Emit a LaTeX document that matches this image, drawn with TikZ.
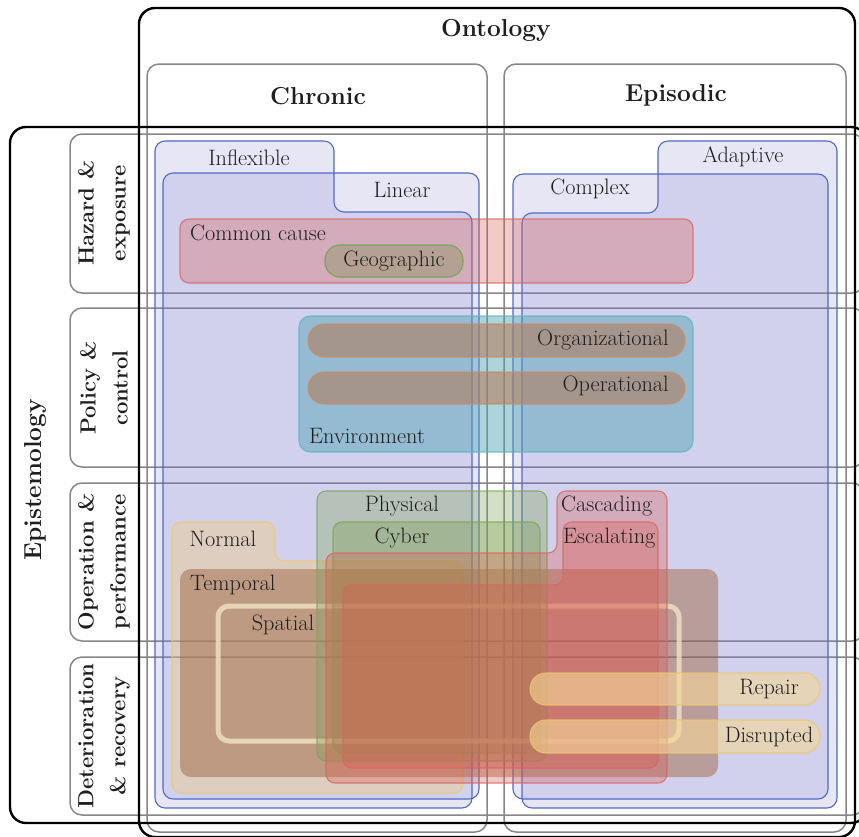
\documentclass[tikz,border=0pt]{standalone}
\usepackage{fontspec}

\definecolor{gridgray}{RGB}{135,135,135}
\definecolor{blueline}{RGB}{80,105,200}
\definecolor{bluefill}{RGB}{115,115,200}
\definecolor{redline}{RGB}{215,100,100}
\definecolor{redfill}{RGB}{220,90,80}
\definecolor{greenline}{RGB}{120,165,90}
\definecolor{greenfill}{RGB}{125,160,80}
\definecolor{tealline}{RGB}{90,180,195}
\definecolor{tealfill}{RGB}{75,160,175}
\definecolor{orangeline}{RGB}{205,140,100}
\definecolor{brownfill}{RGB}{180,120,85}
\definecolor{olivefill}{RGB}{150,150,110}
\definecolor{yellowline}{RGB}{235,200,110}
\definecolor{yellowfill}{RGB}{240,200,125}
\definecolor{pillfill}{RGB}{245,215,150}
\definecolor{tempfill}{RGB}{155,95,60}
\definecolor{creamline}{RGB}{245,232,200}
\definecolor{textgray}{RGB}{30,30,30}

\newcommand\headfont{\fontsize{24.5}{27}\selectfont\bfseries}
\newcommand\rowfont{\fontsize{22}{32}\selectfont\bfseries}
\newcommand\tagfont{\fontsize{22.3}{24}\selectfont}

\begin{document}
\begin{tikzpicture}[x=1pt,y=-1pt,
  frameblack/.style={draw=black,line width=2.4pt,rounded corners=16pt},
  framegray/.style={draw=gridgray,line width=1.5pt,rounded corners=12pt},
  blueset/.style={draw=blueline,line width=1.1pt,fill=bluefill,fill opacity=0.18,rounded corners=10pt},
  redset/.style={draw=redline,draw opacity=0.8,line width=1.1pt,fill=redfill,fill opacity=0.32,rounded corners=9pt},
  greenset/.style={draw=greenline,draw opacity=0.8,line width=1.1pt,fill=greenfill,fill opacity=0.33,rounded corners=9pt},
  tealset/.style={draw=tealline,draw opacity=0.8,line width=1.1pt,fill=tealfill,fill opacity=0.45,rounded corners=11pt},
  pillset/.style={draw=orangeline,draw opacity=0.8,line width=1.1pt,fill=brownfill,fill opacity=0.55,rounded corners=16pt},
  geoset/.style={draw=greenline,line width=1.1pt,fill=olivefill,fill opacity=0.5,rounded corners=15pt},
  yellowset/.style={draw=yellowline,draw opacity=0.8,line width=1.1pt,fill=yellowfill,fill opacity=0.4,rounded corners=9pt},
  yellowpill/.style={draw=yellowline,draw opacity=0.8,line width=1.1pt,fill=pillfill,fill opacity=0.6,rounded corners=16pt},
  tempset/.style={fill=tempfill,fill opacity=0.46,rounded corners=11pt},
  spatialset/.style={draw=creamline,draw opacity=0.75,line width=5pt,rounded corners=11pt},
  head/.style={font=\headfont,text=textgray},
  rowlabel/.style={font=\rowfont,text=textgray,align=center,rotate=90},
  tag/.style={font=\tagfont,text=textgray,inner sep=0pt}
]
\useasboundingbox (0,0) rectangle (859,836);
\clip (0,0) rectangle (859,836);

% ---- frames: ontology columns and epistemology rows ----
\draw[framegray] (147,64) rectangle (487,832);
\draw[framegray] (504,64) rectangle (846,832);
\draw[framegray] (70,134) rectangle (864,293);
\draw[framegray] (70,308) rectangle (864,467);
\draw[framegray] (70,483) rectangle (864,641);
\draw[framegray] (70,657) rectangle (864,815);
\draw[frameblack] (139,8) rectangle (855,837);
\draw[frameblack] (10,127) rectangle (867,823);

% ---- system structure: chronic / episodic ----
\draw[blueset] (155,141) -- (334,141) -- (334,212) -- (472,212) -- (472,808) -- (155,808) -- cycle;
\draw[blueset] (163,173) rectangle (479,799);
\draw[blueset] (658,141) -- (837,141) -- (837,808) -- (522,808) -- (522,213) -- (658,213) -- cycle;
\draw[blueset] (513,174) rectangle (828,799);

% ---- hazard & exposure ----
\draw[redset] (180,219) rectangle (693,283);
\draw[geoset] (325,245) rectangle (463,277);

% ---- policy & control ----
\draw[tealset] (299,316) rectangle (693,452);
\draw[pillset] (308,324) rectangle (685,357);
\draw[pillset] (308,372) rectangle (685,404);

% ---- operation & performance ----
\draw[yellowset] (172,522) -- (275,522) -- (275,561) -- (463,561) -- (463,793) -- (172,793) -- cycle;
\fill[tempset] (180,569) rectangle (718,777);
\draw[spatialset] (218,606) rectangle (679,741);
\draw[greenset] (317,491) rectangle (547,761);
\draw[greenset] (333,522) rectangle (540,753);
\draw[redset] (557,491) -- (667,491) -- (667,783) -- (326,783) -- (326,553) -- (557,553) -- cycle;
\draw[redset] (563,522) -- (658,522) -- (658,768) -- (343,768) -- (343,585) -- (563,585) -- cycle;

% ---- deterioration & recovery ----
\draw[yellowpill] (530,673) rectangle (820,705);
\draw[yellowpill] (530,720) rectangle (820,753);

% ---- headings ----
\node[head] (ontology) at (496,30) {Ontology};
\node[head] (chronic) at (318,96) {Chronic};
\node[head] (episodic) at (676,95) {Episodic};
\node[head,rotate=90] (episte) at (35,480) {Epistemology};
\node[rowlabel] (hazard) at (104,213) {Hazard \&\\exposure};
\node[rowlabel] (policy) at (104,388) {Policy \&\\control};
\node[rowlabel] (operation) at (104,562) {Operation \&\\performance};
\node[rowlabel] (deterioration) at (104,736) {Deterioration\\\& recovery};

% ---- labels ----
\node[tag] (inflexible) at (249,158) {Inflexible};
\node[tag] (linear) at (402,190) {Linear};
\node[tag] (complex) at (590,189) {Complex};
\node[tag] (adaptive) at (743,157) {Adaptive};
\node[tag,anchor=west] (common) at (190,233) {Common cause};
\node[tag] (geographic) at (394,261) {Geographic};
\node[tag,anchor=east] (organizational) at (669,340) {Organizational};
\node[tag,anchor=east] (operational) at (669,386) {Operational};
\node[tag,anchor=west] (environment) at (309,436) {Environment};
\node[tag] (physical) at (402,506) {Physical};
\node[tag] (cyber) at (402,538) {Cyber};
\node[tag,anchor=west] (cascading) at (561,506) {Cascading};
\node[tag,anchor=west] (escalating) at (563,538) {Escalating};
\node[tag] (normal) at (223,539) {Normal};
\node[tag,anchor=west] (temporal) at (190,585) {Temporal};
\node[tag] (spatial) at (283,625) {Spatial};
\node[tag] (repair) at (769,689) {Repair};
\node[tag] (disrupted) at (769,737) {Disrupted};
\end{tikzpicture}
\end{document}
